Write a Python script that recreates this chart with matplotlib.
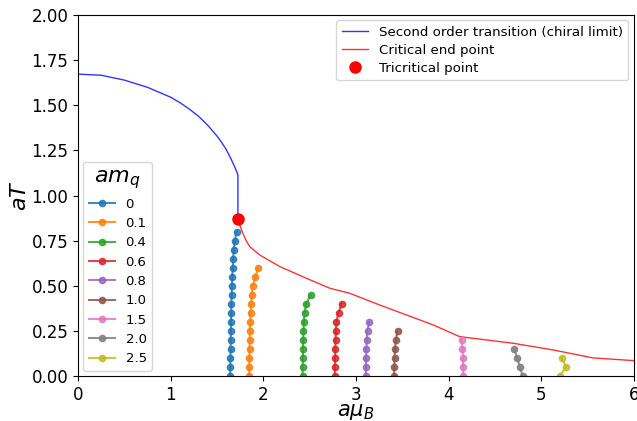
import numpy as np
import matplotlib
matplotlib.use('Agg')
import matplotlib.pyplot as plt

# segunda orden (limite quiral)
mu_2nd = [0.0, 0.25, 0.5, 0.75, 1.0, 1.1, 1.2, 1.3, 1.4, 1.5, 1.55, 1.6, 1.65, 1.69, 1.715, 1.726, 1.726]
T_2nd = [1.673, 1.667, 1.640, 1.600, 1.545, 1.515, 1.48, 1.44, 1.39, 1.33, 1.295, 1.255, 1.205, 1.16, 1.13, 1.115, 0.87]

# punto final critico
mu_cep = [1.726, 1.75, 1.78, 1.82, 1.855, 1.963, 2.18, 2.467, 2.72, 2.934, 3.258, 3.546, 3.833, 4.12, 4.70, 5.13, 5.56, 6.0]
T_cep = [0.87, 0.83, 0.79, 0.745, 0.716, 0.670, 0.606, 0.541, 0.486, 0.458, 0.393, 0.338, 0.283, 0.218, 0.181, 0.144, 0.10, 0.085]

# punto tricritico
mu_tcp = 1.726
T_tcp = 0.87

# lineas de primer orden para cada masa
masses = ['0', '0.1', '0.4', '0.6', '0.8', '1.0', '1.5', '2.0', '2.5']
T_step = [0.0, 0.05, 0.10, 0.15, 0.20, 0.25, 0.30, 0.35, 0.40, 0.45, 0.50, 0.55, 0.60, 0.65, 0.70, 0.75, 0.80]
mu_m0 = [1.643, 1.644, 1.645, 1.647, 1.648, 1.650, 1.651, 1.653, 1.655, 1.658, 1.661, 1.665, 1.670, 1.675, 1.682, 1.693, 1.712]
mu_m01 = [1.848, 1.849, 1.850, 1.852, 1.854, 1.856, 1.859, 1.863, 1.868, 1.875, 1.888, 1.915, 1.945]
mu_m04 = [2.424, 2.425, 2.427, 2.429, 2.431, 2.434, 2.438, 2.445, 2.465, 2.51]
mu_m06 = [2.772, 2.773, 2.775, 2.777, 2.780, 2.784, 2.790, 2.812, 2.845]
mu_m08 = [3.107, 3.108, 3.110, 3.113, 3.117, 3.125, 3.143]
mu_m10 = [3.412, 3.414, 3.417, 3.422, 3.431, 3.449]
mu_m15 = [4.16, 4.158, 4.155, 4.15, 4.14]
mu_m20 = [4.80, 4.77, 4.74, 4.71]
mu_m25 = [5.20, 5.27, 5.22]
mu_first = [mu_m0, mu_m01, mu_m04, mu_m06, mu_m08, mu_m10, mu_m15, mu_m20, mu_m25]

fig = plt.figure(figsize=(6.37, 4.21), dpi=100)
ax = fig.add_axes([0.1225, 0.107, 0.8725, 0.857])

l1, = ax.plot(mu_2nd, T_2nd, color='blue', lw=1, alpha=0.8, label='Second order transition (chiral limit)')
l2, = ax.plot(mu_cep, T_cep, color='red', lw=1, alpha=0.8, label='Critical end point')

lines = []
for i, mu in enumerate(mu_first):
    ln, = ax.plot(mu, T_step[:len(mu)], '-o', color='C%d' % i, ms=4.5, lw=1.5,
                  alpha=0.85, label=masses[i])
    lines.append(ln)

l3, = ax.plot(mu_tcp, T_tcp, 'o', color='red', ms=8, label='Tricritical point', zorder=5)

ax.set_xlim(0, 6)
ax.set_ylim(0, 2)
ax.set_xticks(np.arange(0, 7, 1))
ax.set_yticks(np.arange(0, 2.01, 0.25))
ax.tick_params(labelsize=12)
ax.set_xlabel(r'$a\mu_B$', fontsize=15, labelpad=-1)
ax.set_ylabel(r'$aT$', fontsize=16, labelpad=1)

leg1 = ax.legend(handles=[l1, l2, l3], loc='upper right', fontsize=9.6,
                 labelspacing=0.38, borderaxespad=0.4)
ax.add_artist(leg1)
leg2 = ax.legend(handles=lines, loc='lower left', fontsize=9.5, title=r'$am_q$',
                 title_fontsize=16, labelspacing=0.48, borderaxespad=0.4)

fig.savefig('out.png', dpi=100)
